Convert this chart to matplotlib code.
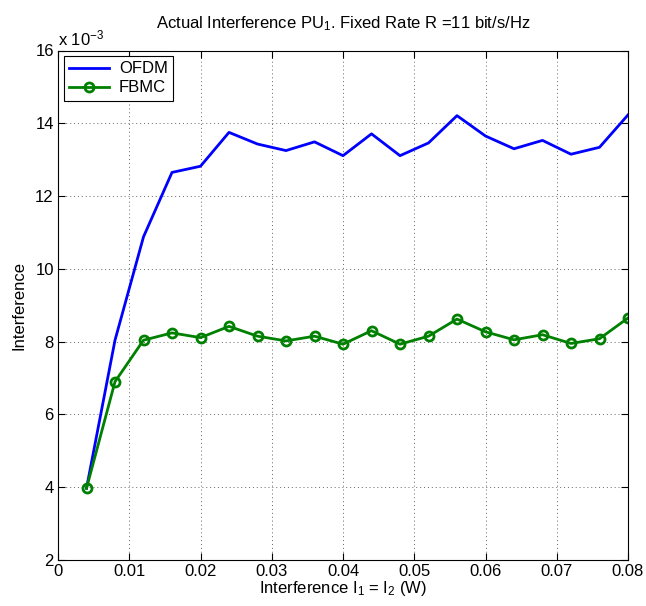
import matplotlib
matplotlib.use("Agg")
import matplotlib.pyplot as plt

plt.rcParams['font.family'] = ['Liberation Sans', 'DejaVu Sans']
plt.rcParams['mathtext.fontset'] = 'custom'
plt.rcParams['mathtext.rm'] = 'Liberation Sans'
plt.rcParams['mathtext.it'] = 'Liberation Sans'

x_vals = [0.004, 0.008, 0.012, 0.016, 0.020, 0.024, 0.028, 0.032, 0.036, 0.040,
          0.044, 0.048, 0.052, 0.056, 0.060, 0.064, 0.068, 0.072, 0.076, 0.080]
ofdm = [3.97, 8.04, 10.88, 12.65, 12.82, 13.75, 13.43, 13.25, 13.49, 13.11,
        13.71, 13.11, 13.46, 14.21, 13.65, 13.30, 13.53, 13.15, 13.34, 14.23]
fbmc = [3.97, 6.90, 8.04, 8.24, 8.11, 8.42, 8.15, 8.02, 8.15, 7.93,
        8.30, 7.93, 8.15, 8.62, 8.27, 8.05, 8.19, 7.95, 8.08, 8.65]
x_ticks = [0, 0.01, 0.02, 0.03, 0.04, 0.05, 0.06, 0.07, 0.08]
x_tick_labels = ['0', '0.01', '0.02', '0.03', '0.04', '0.05', '0.06', '0.07', '0.08']
y_ticks = [2, 4, 6, 8, 10, 12, 14, 16]
y_tick_labels = ['2', '4', '6', '8', '10', '12', '14', '16']

FS = 12

fig = plt.figure(figsize=(6.46, 6.06), dpi=100)
ax = fig.add_axes([58/646, 46/606, 570/646, 509.5/606])

ax.plot(x_vals, ofdm, color='#0000ff', lw=2, label='OFDM')
ax.plot(x_vals, fbmc, color='#008000', lw=2, marker='o', markersize=6.5,
        markerfacecolor='none', markeredgewidth=2, label='FBMC')

ax.set_xlim(0, 0.08)
ax.set_ylim(2, 16)
ax.set_xticks(x_ticks)
ax.set_xticklabels(x_tick_labels)
ax.set_yticks(y_ticks)
ax.set_yticklabels(y_tick_labels)
ax.tick_params(direction='in', top=True, right=True, labelsize=FS, length=5, width=0.8, pad=3)
ax.grid(True, linestyle=(0, (1, 3)), color='#666666', linewidth=0.7)
for s in ax.spines.values():
    s.set_linewidth(0.8)

ax.set_title('Actual Interference PU$_1$. Fixed Rate R =11 bit/s/Hz', fontsize=FS, pad=16)
ax.set_xlabel('Interference I$_1$ = I$_2$ (W)', fontsize=FS, labelpad=0)
ax.set_ylabel('Interference', fontsize=FS, labelpad=6)
ax.text(0, 1.004, 'x 10$^{-3}$', transform=ax.transAxes, fontsize=FS, ha='left', va='bottom')

leg = ax.legend(loc='upper left', fontsize=FS, fancybox=False, edgecolor='black',
                framealpha=1, borderaxespad=0.35, handlelength=2.4, borderpad=0.3,
                labelspacing=0.25, handletextpad=0.6)
leg.get_frame().set_linewidth(0.8)

fig.savefig('out.png', dpi=100)
